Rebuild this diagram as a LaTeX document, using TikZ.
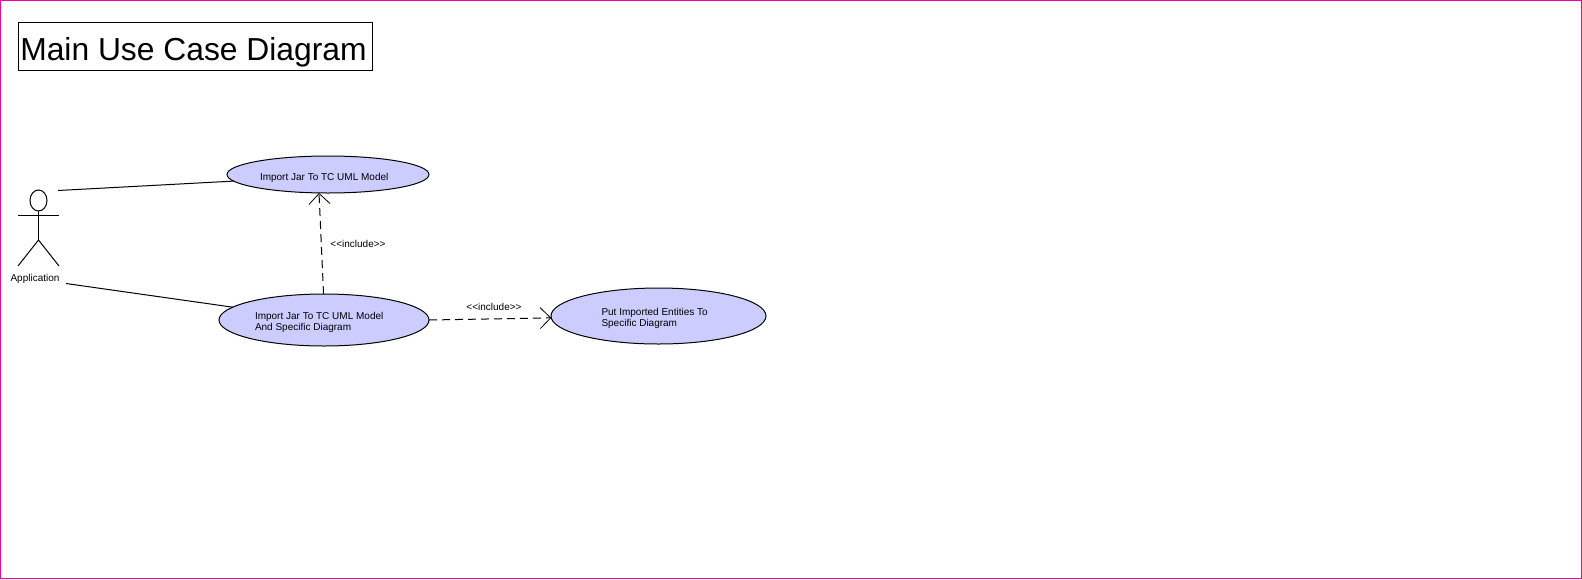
\documentclass[tikz,border=0pt]{standalone}
\usepackage{fontspec}
\setmainfont{Liberation Sans}
\usetikzlibrary{arrows.meta,shapes.geometric}
\definecolor{ucfill}{HTML}{CCCCFF}
\definecolor{frameclr}{HTML}{F000A0}
\tikzset{
  ucase/.style={ellipse,draw=black,fill=ucfill,line width=1pt,inner sep=0pt,outer sep=0pt},
  smalltxt/.style={font=\fontsize{10}{11}\selectfont,inner sep=0pt,outer sep=0pt,align=left},
  assoc/.style={draw=black,line width=1pt},
  incl/.style={draw=black,line width=1pt,dash pattern=on 8pt off 5pt,-{Straight Barb[length=10.5pt,width=21pt,line width=.8pt]}},
  limb/.style={draw=black,line width=1pt}
}
\begin{document}
\begin{tikzpicture}[x=1pt,y=-1pt]
\useasboundingbox (0,0) rectangle (1582,579);
\draw[frameclr,line width=1pt] (0.5,0.5) rectangle (1581.5,578.5);
% title
\node[draw=black,line width=1pt,minimum width=354pt,minimum height=48pt,inner sep=0pt,outer sep=0pt,text height=31pt,text depth=3pt,font=\fontsize{31.8}{36}\selectfont] (title) at (195.5,46.5) {\kern-4pt Main Use Case Diagram};
% use cases
\node[ucase,minimum width=202pt,minimum height=37pt] (uc1) at (328,174.5) {};
\node[ucase,minimum width=210pt,minimum height=52pt] (uc2) at (324,320) {};
\node[ucase,minimum width=215pt,minimum height=56pt] (uc3) at (658.5,316) {};
\node[smalltxt,anchor=west] (t1) at (260,177.5) {Import Jar To TC UML Model};
\node[smalltxt,anchor=west] (t2) at (255,322.5) {Import Jar To TC UML Model\\And Specific Diagram};
\node[smalltxt,anchor=west] (t3) at (601.5,318.5) {Put Imported Entities To\\Specific Diagram};
% actor
\node[ellipse,draw=black,line width=1pt,fill=white,minimum width=17pt,minimum height=21pt,inner sep=0pt,outer sep=0pt] (head) at (38.5,200.5) {};
\coordinate (armL) at (18,215);
\coordinate (armR) at (59,215);
\coordinate (hip) at (38.5,240);
\coordinate (footL) at (18,266);
\coordinate (footR) at (59,266);
\draw[limb] (head.south) -- (hip);
\draw[limb] (armL) -- (armR);
\draw[limb] (footL) -- (hip) -- (footR);
\node[smalltxt] (actor) at (35,279) {Application};
% connectors
\coordinate (actorA) at (58,190.5);
\coordinate (actorB) at (66,283.5);
\draw[assoc] (actorA) -- (uc1.184);
\draw[assoc] (actorB) -- (uc2.172);
\draw[incl] (uc2.91) -- (uc1.244);
\draw[incl] (uc2.0.5) -- (uc3.181);
\node[smalltxt] (l1) at (358,244) {<{}<include>{}>};
\node[smalltxt] (l2) at (494,307) {<{}<include>{}>};
\end{tikzpicture}
\end{document}
